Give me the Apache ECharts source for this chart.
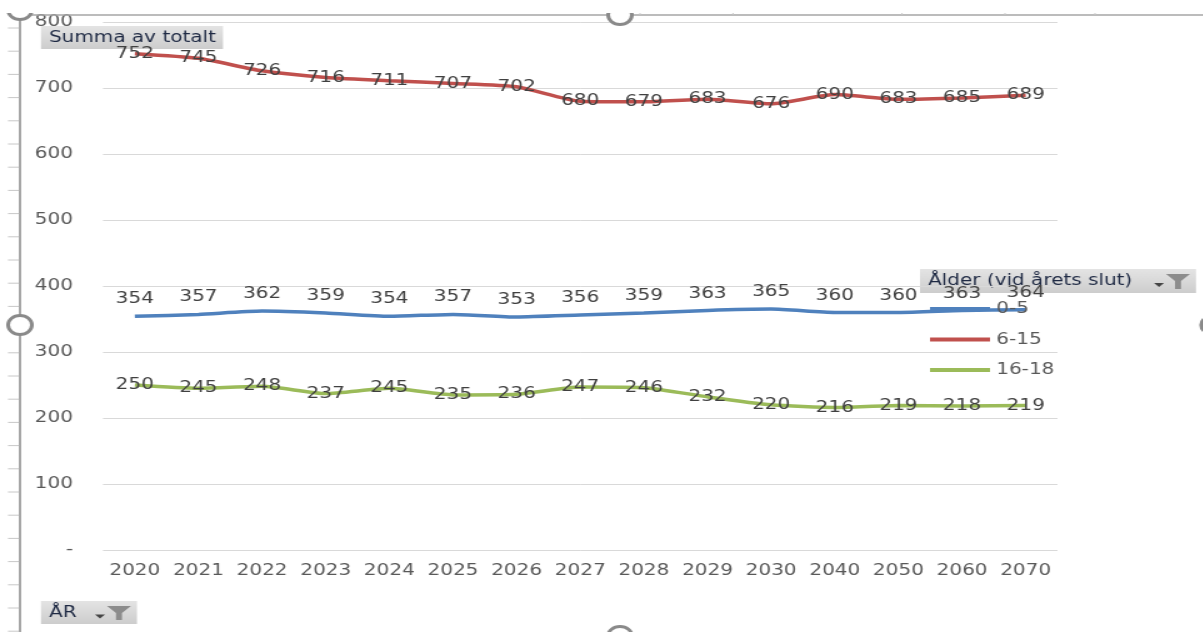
<!DOCTYPE html>
<html>
<head>
<meta charset="utf-8">
<script src="https://cdn.jsdelivr.net/npm/echarts@6/dist/echarts.min.js"></script>
<style>
  html, body { margin: 0; padding: 0; background: #fff; overflow: hidden; }
  #chart { height: 632px; transform-origin: 0 0; }
</style>
</head>
<body>
<div id="chart"></div>
<script>
// Years on the category axis
const years = ['2020', '2021', '2022', '2023', '2024', '2025', '2026', '2027', '2028', '2029', '2030', '2040', '2050', '2060', '2070'];

// Age groups (series names)
const groupNames = ['0-5', '6-15', '16-18'];

// Totals per age group and year
const age0to5 = [354, 357, 362, 359, 354, 357, 353, 356, 359, 363, 365, 360, 360, 363, 364];
const age6to15 = [752, 745, 726, 716, 711, 707, 702, 680, 679, 683, 676, 690, 683, 685, 689];
const age16to18 = [250, 245, 248, 237, 245, 235, 236, 247, 246, 232, 220, 216, 219, 218, 219];

// Value axis ticks
const yMax = 800;
const yStep = 100;

// The sheet view is stretched horizontally; the chart is laid out in
// unstretched units and widened with a CSS transform.
const SX = 1.25;
const PAGE_W = 1203;
const px = function (x) { return x / SX; };

const el = document.getElementById('chart');
el.style.width = px(PAGE_W) + 'px';
el.style.transform = 'scaleX(' + SX + ')';

const FONT = '"DejaVu Sans", Verdana, sans-serif';
const labelColor = '#404040';
const axisText = '#595959';

const chart = echarts.init(el, null, { renderer: 'canvas' });

function lineSeries(name, data, color, labelPos, dist, dy) {
  return {
    name: name,
    type: 'line',
    data: data,
    symbol: 'circle',
    symbolSize: 0.1,
    showSymbol: true,
    smooth: 0.2,
    lineStyle: { color: color, width: 3.5 },
    itemStyle: { color: color },
    label: {
      show: true,
      position: labelPos,
      distance: dist,
      offset: [0, dy],
      color: labelColor,
      fontFamily: FONT,
      fontSize: 16
    },
    labelLayout: { hideOverlap: false },
    z: 3
  };
}

// Gray pivot field buttons with a filter funnel
function fieldButton(x, y, w, h, text, withFilter) {
  const W = px(w);
  const children = [
    {
      type: 'rect',
      shape: { x: 0, y: 0, width: W, height: h },
      style: {
        fill: new echarts.graphic.LinearGradient(0, 0, 0, 1, [
          { offset: 0, color: '#e4e4e4' },
          { offset: 1, color: '#cdcdcd' }
        ])
      }
    },
    {
      type: 'text',
      x: px(8), y: h / 2,
      style: { text: text, fill: '#1f2a44', font: '16px ' + FONT, verticalAlign: 'middle' }
    }
  ];
  if (withFilter) {
    children.push(
      { type: 'polygon', shape: { points: [[W - px(42), h / 2 + 2], [W - px(32), h / 2 + 2], [W - px(37), h / 2 + 6]] }, style: { fill: '#444' } },
      { type: 'polygon', shape: { points: [[W - px(30), 5], [W - px(6), 5], [W - px(15), 12], [W - px(15), h - 4], [W - px(21), h - 4], [W - px(21), 12]] }, style: { fill: '#8c8c8c' } }
    );
  }
  return { type: 'group', x: px(x), y: y, z: 100, children: children };
}

// Sheet frame: left ruler with small ticks and the resize handles
const frame = [];
frame.push({ type: 'line', shape: { x1: px(20), y1: 14, x2: px(20), y2: 632 }, style: { stroke: '#a6a6a6', lineWidth: 2 }, z: 90 });
frame.push({ type: 'line', shape: { x1: px(20), y1: 15, x2: px(PAGE_W), y2: 15 }, style: { stroke: '#a6a6a6', lineWidth: 1.5 }, z: 90 });
for (let ty = 28; ty < 632; ty += 23.2) {
  frame.push({ type: 'line', shape: { x1: px(8), y1: ty, x2: px(19), y2: ty }, style: { stroke: '#c8c8c8', lineWidth: 1 }, z: 90 });
}
[640, 733, 902, 1005, 1095].forEach(function (tx) {
  frame.push({ type: 'line', shape: { x1: px(tx), y1: 13, x2: px(tx), y2: 15 }, style: { stroke: '#c8c8c8', lineWidth: 1 }, z: 90 });
});
[[20, 325], [620, 15], [620, 636], [1213, 325], [20, 10]].forEach(function (p) {
  frame.push({ type: 'circle', shape: { cx: px(p[0]), cy: p[1], r: 9.5 }, style: { fill: '#fff', stroke: '#8a8a8a', lineWidth: 3 }, z: 95 });
});
// blank strip above the frame edge hides the upper half of the top handles
frame.push({ type: 'rect', shape: { x: 0, y: 0, width: px(PAGE_W), height: 13 }, style: { fill: '#fff' }, z: 96 });

const option = {
  backgroundColor: '#ffffff',
  animation: false,
  grid: { left: px(103), right: px(145), top: 22, bottom: 82, containLabel: false },
  xAxis: {
    type: 'category',
    data: years,
    boundaryGap: true,
    axisLine: { show: false },
    axisTick: { show: false },
    axisLabel: { interval: 0, color: axisText, fontFamily: FONT, fontSize: 16, margin: 13 }
  },
  yAxis: {
    type: 'value',
    min: 0,
    max: yMax,
    interval: yStep,
    axisLine: { show: false },
    axisTick: { show: false },
    splitLine: { lineStyle: { color: '#d9d9d9', width: 1 } },
    axisLabel: {
      color: axisText,
      fontFamily: FONT,
      fontSize: 16,
      margin: px(30),
      formatter: function (v) { return v === 0 ? '-' : String(v); }
    }
  },
  legend: {
    data: groupNames,
    icon: 'rect',
    orient: 'vertical',
    left: px(930),
    top: 301,
    padding: 0,
    itemWidth: px(60),
    itemHeight: 4,
    itemGap: 14.5,
    textStyle: { color: axisText, fontFamily: FONT, fontSize: 16 },
    z: 50
  },
  series: [
    lineSeries(groupNames[0], age0to5, '#4f81bd', 'top', 9, 0),
    lineSeries(groupNames[1], age6to15, '#c0504d', 'inside', 0, 2),
    lineSeries(groupNames[2], age16to18, '#9bbb59', 'inside', 0, 1)
  ],
  graphic: frame.concat([
    fieldButton(41, 26, 182, 23, 'Summa av totalt', false),
    fieldButton(920, 269, 276, 24, 'Ålder (vid årets slut)', true),
    fieldButton(41, 601, 96, 23, 'ÅR', true)
  ])
};

chart.setOption(option);
</script>
</body>
</html>
